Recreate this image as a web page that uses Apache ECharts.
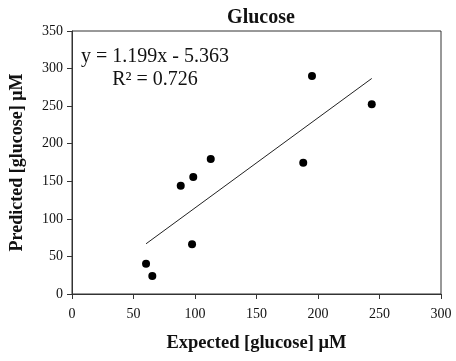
<!DOCTYPE html>
<html>
<head>
<meta charset="utf-8">
<script src="https://cdn.jsdelivr.net/npm/echarts@6/dist/echarts.min.js"></script>
<style>
  html, body { margin: 0; padding: 0; background: #fff; }
  #chart { width: 456px; height: 361px; }
</style>
</head>
<body>
<div id="chart"></div>
<script>
// Measured glucose: expected vs predicted concentration (µM)
const expected  = [60.2, 65.3, 88.4, 97.6, 98.6, 112.8, 188.0, 195.1, 243.7];
const predicted = [40.3, 24.0, 144.1, 66.1, 155.7, 179.7, 174.7, 290.1, 252.5];

// Linear fit reported on the chart
const slope = 1.199;
const intercept = -5.363;
const rSquared = 0.726;
const fitRange = [60.2, 243.7];

const xTicks = [0, 50, 100, 150, 200, 250, 300];
const yTicks = [0, 50, 100, 150, 200, 250, 300, 350];

const serif = '"Liberation Serif", "Times New Roman", serif';
const ink = '#111';

const points = expected.map((x, i) => [x, predicted[i]]);
const fitLine = fitRange.map(x => [x, slope * x + intercept]);

const chart = echarts.init(document.getElementById('chart'), null, { renderer: 'canvas' });

chart.setOption({
  animation: false,
  backgroundColor: '#fff',
  title: {
    text: 'Glucose',
    left: 256, top: 3,
    textAlign: 'center',
    textStyle: { fontFamily: serif, fontWeight: 'bold', fontSize: 20, color: ink }
  },
  grid: {
    left: 72, right: 15, top: 31, bottom: 67,
    show: true, borderColor: '#333', borderWidth: 1, backgroundColor: 'transparent'
  },
  xAxis: {
    type: 'value',
    min: xTicks[0], max: xTicks[xTicks.length - 1], interval: 50,
    name: 'Expected [glucose] μM',
    nameLocation: 'middle', nameGap: 40,
    nameTextStyle: { fontFamily: serif, fontWeight: 'bold', fontSize: 18.5, color: ink },
    axisLine: { show: true, lineStyle: { color: '#333', width: 1 } },
    axisTick: { show: true, inside: false, length: 5, lineStyle: { color: '#333' } },
    axisLabel: { fontFamily: serif, fontSize: 14, color: ink, margin: 13 },
    splitLine: { show: false }
  },
  yAxis: {
    type: 'value',
    min: yTicks[0], max: yTicks[yTicks.length - 1], interval: 50,
    name: 'Predicted [glucose] μM',
    nameLocation: 'middle', nameGap: 46,
    nameTextStyle: { fontFamily: serif, fontWeight: 'bold', fontSize: 18, color: ink },
    axisLine: { show: true, lineStyle: { color: '#333', width: 1 } },
    axisTick: { show: true, inside: false, length: 5, lineStyle: { color: '#333' } },
    axisLabel: { fontFamily: serif, fontSize: 14, color: ink, margin: 9 },
    splitLine: { show: false }
  },
  series: [
    {
      type: 'line',
      data: fitLine,
      symbol: 'none',
      lineStyle: { color: '#222', width: 1 },
      z: 2
    },
    {
      type: 'scatter',
      data: points,
      symbol: 'circle',
      symbolSize: 8,
      itemStyle: { color: '#000', opacity: 1 },
      z: 3
    }
  ],
  graphic: [
    {
      type: 'text',
      x: 155, y: 45,
      style: {
        text: 'y = ' + slope.toFixed(3) + 'x - ' + Math.abs(intercept).toFixed(3) + '\nR² = ' + rSquared.toFixed(3),
        font: '20px ' + serif,
        fill: ink,
        align: 'center',
        verticalAlign: 'top',
        lineHeight: 23
      }
    }
  ]
});
</script>
</body>
</html>
